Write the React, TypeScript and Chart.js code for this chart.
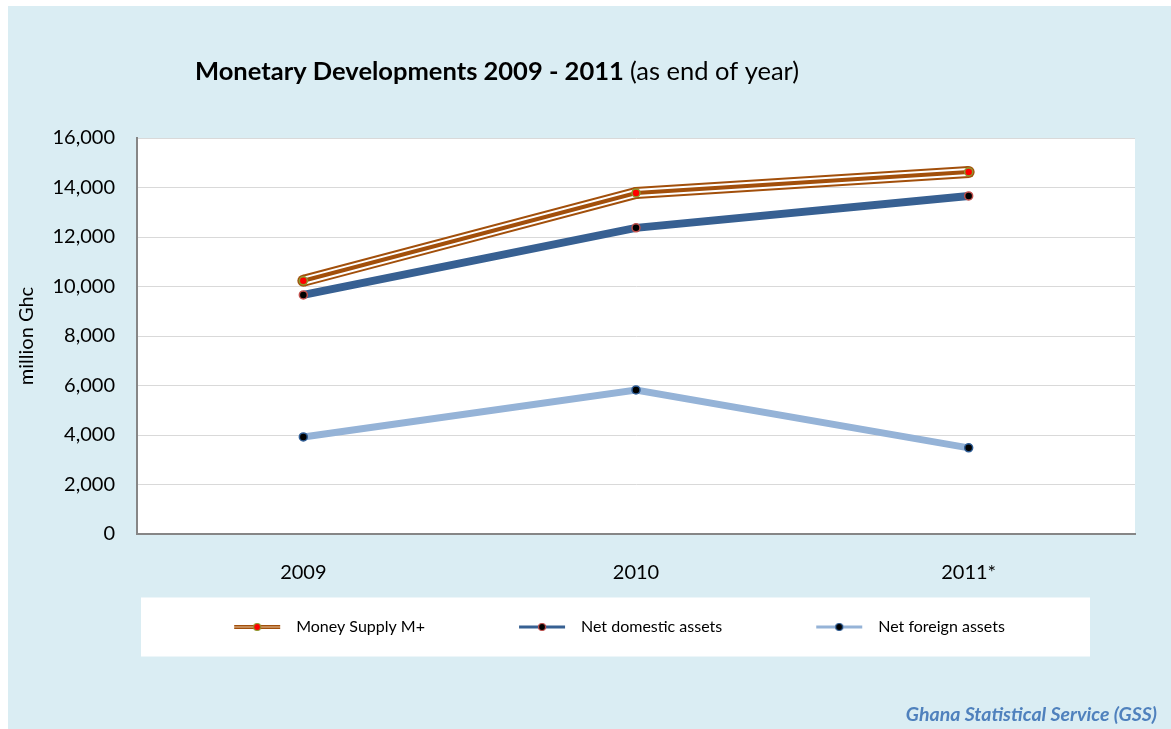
import React, { useEffect, useRef } from 'react';
import { Chart, registerables } from 'chart.js';

Chart.register(...registerables);

// ---- data ----
const categories = ['2009', '2010', '2011*'];
const moneySupply = [10230, 13780, 14630];
const netDomestic = [9660, 12370, 13660];
const netForeign = [3920, 5820, 3480];
const seriesNames = ['Money Supply M+', 'Net domestic assets', 'Net foreign assets'];
const yMin = 0;
const yMax = 16000;
const yStep = 2000;

const titleBold = 'Monetary Developments 2009 - 2011';
const titleNormal = '(as end of year)';
const yTitle = 'million Ghc';
const sourceNote = 'Ghana Statistical Service (GSS)';

// ---- styles ----
const FONT = 'Lato, "Open Sans", sans-serif';
const BROWN = '#A24F0B';
const DOMESTIC = '#376092';
const FOREIGN = '#95B3D7';
const W = 1163;
const H = 723;

function legendIcon(kind: number): HTMLCanvasElement {
  const c = document.createElement('canvas');
  c.width = 138;
  c.height = 14;
  const ctx = c.getContext('2d')!;
  const y = 7;
  const x0 = 84;
  const x1 = 130;
  const line = (color: string, w: number) => {
    ctx.strokeStyle = color;
    ctx.lineWidth = w;
    ctx.beginPath();
    ctx.moveTo(x0, y);
    ctx.lineTo(x1, y);
    ctx.stroke();
  };
  let fill = '#000';
  let border = '#C0504D';
  if (kind === 0) {
    line(BROWN, 4);
    line('#E9C9A6', 1);
    fill = '#FF0000';
    border = '#8E9A2E';
  } else if (kind === 1) {
    line(DOMESTIC, 3);
    fill = '#000000';
    border = '#C0504D';
  } else {
    line(FOREIGN, 3);
    fill = '#000000';
    border = '#2F5D95';
  }
  ctx.beginPath();
  ctx.arc((x0 + x1) / 2, y, 3.5, 0, Math.PI * 2);
  ctx.fillStyle = fill;
  ctx.fill();
  ctx.lineWidth = 1.2;
  ctx.strokeStyle = border;
  ctx.stroke();
  return c;
}

const backgroundPlugin = {
  id: 'bgBoxes',
  afterLayout(chart: any) {
    if (chart.legend) {
      chart.legend.left += 12;
    }
  },
  beforeDraw(chart: any) {
    const { ctx, chartArea: a } = chart;
    ctx.save();
    ctx.fillStyle = '#ffffff';
    ctx.fillRect(a.left, a.top, a.right - a.left, a.bottom - a.top);
    const lg = chart.legend;
    if (lg) {
      const cy = lg.top + 18;
      ctx.fillRect(a.left + 4, cy - 29.5, 949, 59);
    }
    ctx.restore();
  },
};

const textPlugin = {
  id: 'texts',
  afterDraw(chart: any) {
    const { ctx } = chart;
    ctx.save();
    ctx.textBaseline = 'middle';
    ctx.fillStyle = '#000000';
    ctx.textAlign = 'left';
    ctx.font = `bold 25.5px ${FONT}`;
    const tx = 187;
    const ty = 66;
    ctx.fillText(titleBold, tx, ty);
    const w = ctx.measureText(titleBold + ' ').width;
    ctx.font = `25.5px ${FONT}`;
    ctx.fillText(titleNormal, tx + w, ty);

    ctx.font = `italic bold 19.5px ${FONT}`;
    ctx.fillStyle = '#4F81BD';
    ctx.textAlign = 'right';
    ctx.fillText(sourceNote, 1149, 709);
    ctx.restore();
  },
};

export default function App() {
  const ref = useRef<HTMLCanvasElement | null>(null);

  useEffect(() => {
    if (!ref.current) return;
    const icons = [legendIcon(0), legendIcon(1), legendIcon(2)];
    const chart = new Chart(ref.current, {
      type: 'line',
      data: {
        labels: categories,
        datasets: [
          {
            label: seriesNames[0],
            data: moneySupply,
            borderColor: BROWN,
            borderWidth: 4,
            pointRadius: 4,
            pointBackgroundColor: '#FF0000',
            pointBorderColor: '#8E9A2E',
            pointBorderWidth: 1.5,
            order: 0,
          },
          {
            label: '_inner',
            data: moneySupply,
            borderColor: '#ffffff',
            borderWidth: 8,
            pointRadius: 0,
            order: 1,
          },
          {
            label: '_outer',
            data: moneySupply,
            borderColor: BROWN,
            borderWidth: 12,
            pointRadius: 6,
            pointBackgroundColor: BROWN,
            pointBorderWidth: 0,
            order: 2,
          },
          {
            label: seriesNames[1],
            data: netDomestic,
            borderColor: DOMESTIC,
            borderWidth: 8,
            pointRadius: 4,
            pointBackgroundColor: '#000000',
            pointBorderColor: '#C0504D',
            pointBorderWidth: 1.5,
            order: 3,
          },
          {
            label: seriesNames[2],
            data: netForeign,
            borderColor: FOREIGN,
            borderWidth: 7,
            pointRadius: 4,
            pointBackgroundColor: '#000000',
            pointBorderColor: '#2F5D95',
            pointBorderWidth: 1.5,
            order: 4,
          },
        ],
      },
      options: {
        responsive: false,
        animation: false,
        layout: { padding: { top: 132, right: 36, bottom: 84, left: 0 } },
        plugins: {
          title: { display: false },
          tooltip: { enabled: false },
          legend: {
            display: true,
            position: 'bottom',
            labels: {
              usePointStyle: true,
              pointStyleWidth: 138,
              padding: 10,
              color: '#000000',
              font: { family: FONT, size: 16 },
              generateLabels: (ch: any) => {
                const idx = [0, 3, 4];
                return idx.map((di, k) => ({
                  text: ch.data.datasets[di].label,
                  datasetIndex: di,
                  pointStyle: icons[k],
                  fillStyle: 'transparent',
                  strokeStyle: 'transparent',
                  lineWidth: 0,
                  hidden: false,
                  fontColor: '#000000',
                }));
              },
            },
          },
        },
        scales: {
          x: {
            type: 'category',
            offset: true,
            grid: { display: false, drawTicks: false },
            border: { display: true, color: '#868686', width: 2 },
            ticks: {
              color: '#000000',
              padding: 27,
              font: { family: FONT, size: 20 },
            },
            afterFit: (s: any) => {
              s.height = 75;
            },
          },
          y: {
            min: yMin,
            max: yMax,
            grid: { color: '#D9D9D9', lineWidth: 1, drawTicks: false },
            border: { display: true, color: '#868686', width: 2 },
            ticks: {
              stepSize: yStep,
              color: '#000000',
              padding: 22,
              font: { family: FONT, size: 20 },
              callback: (v: any) => Number(v).toLocaleString('en-US'),
            },
            title: {
              display: true,
              text: yTitle,
              color: '#000000',
              font: { family: FONT, size: 20 },
              padding: { top: 7, bottom: 0 },
            },
            afterFit: (s: any) => {
              s.width = 129;
            },
          },
        },
      },
      plugins: [backgroundPlugin, textPlugin],
    });
    return () => chart.destroy();
  }, []);

  return (
    <div
      style={{
        position: 'absolute',
        left: 8,
        top: 6,
        width: W,
        height: H,
        background: '#DAEDF3',
      }}
    >
      <canvas ref={ref} width={W} height={H} style={{ display: 'block' }} />
    </div>
  );
}
